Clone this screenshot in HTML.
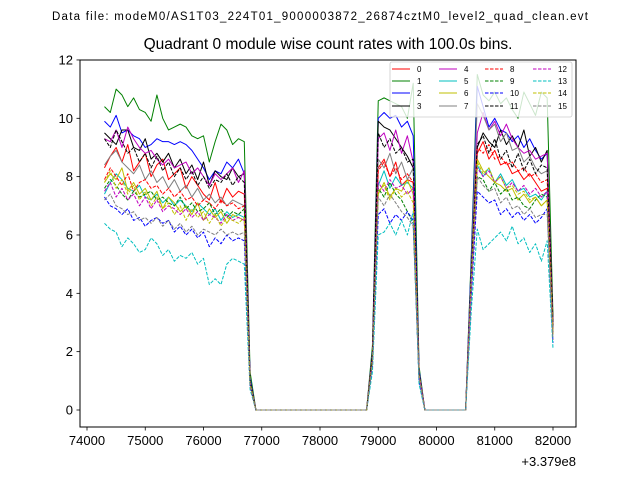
<!DOCTYPE html>
<html><head><meta charset="utf-8"><style>body{margin:0;background:#fff}svg{display:block;font-family:"Liberation Sans",sans-serif}</style></head>
<body>
<svg id="chart" width="640" height="480" xmlns="http://www.w3.org/2000/svg">
<rect width="640" height="480" fill="#fff"/>
<text x="320" y="20" font-size="11.5" text-anchor="middle" textLength="536">Data file: modeM0/AS1T03_224T01_9000003872_26874cztM0_level2_quad_clean.evt</text>
<text x="328" y="49" font-size="15.5" text-anchor="middle">Quadrant 0 module wise count rates with 100.0s bins.</text>
<g id="grid"></g>
<g id="lines"></g>
<rect x="80" y="60" width="496" height="367" fill="none" stroke="#000" stroke-width="1"/>
<g id="axes"></g>
<g id="legend"></g>
<text x="576" y="466" font-size="13" text-anchor="end">+3.379e8</text>
</svg>
<script>
const t0 = 74300, dt = 100;
const xTicks = [74000,75000,76000,77000,78000,79000,80000,81000,82000];
const yTicks = [0,2,4,6,8,10,12];
const names = ["0","1","2","3","4","5","6","7","8","9","10","11","12","13","14","15"];
const s0=[8.3,8.7,9.0,8.5,9.1,8.2,8.5,8.8,8.0,8.4,8.6,7.9,8.1,8.3,7.6,8.0,7.7,7.4,7.2,7.8,7.1,7.6,7.3,7.5,7.4,1.0,0,0,0,0,0,0,0,0,0,0,0,0,0,0,0,0,0,0,0,0,1.9,8.3,8.6,8.0,8.5,7.7,7.9,7.8,1.3,0,0,0,0,0,0,0,0,4.5,8.8,9.2,8.6,8.9,8.4,8.5,8.1,8.2,7.9,8.1,7.8,7.5,7.6,3.0];
const s1=[10.4,10.2,11.0,10.8,10.4,10.7,10.3,10.2,9.9,10.8,10.0,9.6,9.7,9.8,9.7,9.4,9.3,9.4,8.5,9.2,9.8,9.6,9.1,9.3,9.2,1.3,0,0,0,0,0,0,0,0,0,0,0,0,0,0,0,0,0,0,0,0,2.2,10.6,10.7,10.6,10.5,10.4,10.0,11.2,1.5,0,0,0,0,0,0,0,0,5.5,11.5,10.8,10.6,10.9,10.5,10.7,10.3,10.0,10.9,10.5,10.1,10.9,10.7,3.2];
const s2=[9.9,9.7,10.1,9.5,9.6,9.4,9.3,9.0,9.1,9.3,9.2,9.2,9.1,9.2,9.1,8.9,8.6,8.3,7.9,8.2,8.1,8.5,8.3,8.6,8.1,1.1,0,0,0,0,0,0,0,0,0,0,0,0,0,0,0,0,0,0,0,0,2.0,10.0,10.2,10.0,10.1,9.7,9.9,9.4,1.4,0,0,0,0,0,0,0,0,5.3,11.1,10.4,9.7,10.0,9.6,9.5,9.2,9.4,9.0,9.3,8.9,8.6,8.8,2.8];
const s3=[9.5,9.3,9.1,9.6,9.6,9.0,8.9,9.3,8.6,8.8,8.5,8.8,8.3,8.6,8.1,8.4,7.9,8.5,7.7,8.2,8.0,7.9,8.3,8.0,8.1,1.0,0,0,0,0,0,0,0,0,0,0,0,0,0,0,0,0,0,0,0,0,1.9,9.9,9.7,9.6,9.3,9.0,8.7,8.3,1.3,0,0,0,0,0,0,0,0,4.7,9.0,9.5,9.2,9.0,9.6,9.1,9.4,9.0,9.6,8.7,9.0,8.5,8.9,3.0];
const s4=[9.3,9.2,9.6,9.0,9.7,9.3,9.0,8.8,8.9,8.6,8.4,8.6,8.3,8.4,8.5,8.1,8.3,8.0,7.7,8.1,7.9,8.1,8.3,7.8,8.2,1.0,0,0,0,0,0,0,0,0,0,0,0,0,0,0,0,0,0,0,0,0,1.9,9.3,9.5,8.9,9.6,8.8,9.4,8.5,1.3,0,0,0,0,0,0,0,0,4.8,9.5,10.2,9.6,9.9,9.4,9.8,9.3,9.0,8.8,8.9,8.6,8.7,8.8,2.9];
const s5=[7.4,7.8,8.1,7.9,7.6,7.5,7.7,7.3,7.2,7.4,7.1,7.3,7.0,7.2,7.0,6.8,7.1,6.9,6.7,6.9,6.5,6.8,6.6,6.7,6.6,0.9,0,0,0,0,0,0,0,0,0,0,0,0,0,0,0,0,0,0,0,0,1.7,7.7,8.2,7.6,8.0,7.7,7.8,7.6,1.2,0,0,0,0,0,0,0,0,4.2,8.4,8.0,8.3,7.8,8.1,7.7,7.9,7.5,7.6,7.3,7.4,7.2,7.5,2.6];
const s6=[7.8,8.1,7.9,8.3,7.5,7.8,7.4,7.6,7.2,7.5,6.9,7.3,7.1,6.8,7.0,6.7,7.1,6.5,6.9,6.6,6.8,6.4,6.7,6.6,6.5,0.9,0,0,0,0,0,0,0,0,0,0,0,0,0,0,0,0,0,0,0,0,1.7,7.4,7.8,7.3,7.6,7.5,7.9,7.4,1.2,0,0,0,0,0,0,0,0,4.4,8.6,8.2,8.0,7.8,7.7,7.5,7.6,7.2,7.4,7.1,7.3,7.0,7.2,2.6];
const s7=[8.4,8.7,8.9,8.5,8.3,8.1,8.4,7.9,8.2,7.8,8.0,7.6,7.9,7.5,7.7,7.3,7.6,7.2,7.4,7.1,7.3,7.0,7.2,7.1,7.0,1.0,0,0,0,0,0,0,0,0,0,0,0,0,0,0,0,0,0,0,0,0,1.9,8.6,8.3,8.8,8.1,8.5,7.9,8.3,1.3,0,0,0,0,0,0,0,0,5.0,10.5,10.1,9.6,9.8,9.2,9.5,8.9,9.0,8.5,8.7,8.3,8.1,8.2,2.9];
const s8=[7.9,8.3,8.0,7.7,8.1,7.5,7.8,7.9,7.6,7.7,7.4,7.6,7.3,7.5,7.2,7.3,7.0,7.2,7.1,6.9,7.2,7.0,7.1,6.9,7.0,0.9,0,0,0,0,0,0,0,0,0,0,0,0,0,0,0,0,0,0,0,0,1.8,8.2,8.5,8.0,8.3,7.9,8.1,7.8,1.2,0,0,0,0,0,0,0,0,4.6,9.0,8.8,9.1,8.6,8.7,8.4,8.5,8.2,8.3,8.0,8.1,7.8,7.9,2.8];
const s9=[7.6,7.9,7.7,7.4,7.2,7.5,7.3,7.4,7.5,7.2,7.3,7.1,7.0,7.3,6.9,7.1,6.8,6.9,7.1,6.7,6.9,6.6,6.8,6.7,6.9,0.9,0,0,0,0,0,0,0,0,0,0,0,0,0,0,0,0,0,0,0,0,1.7,7.6,7.3,7.8,7.4,7.2,6.8,6.4,1.1,0,0,0,0,0,0,0,0,4.3,8.0,7.9,7.5,7.8,7.4,7.6,7.2,7.3,7.0,6.9,7.2,7.4,7.3,2.6];
const s10=[7.3,7.0,6.9,6.7,6.9,6.5,6.6,6.3,6.5,6.6,6.4,6.5,6.1,6.3,6.0,6.2,5.9,6.1,5.6,5.9,5.7,6.0,5.8,5.9,5.8,0.8,0,0,0,0,0,0,0,0,0,0,0,0,0,0,0,0,0,0,0,0,1.5,6.7,6.9,6.4,6.7,6.5,6.8,6.5,1.0,0,0,0,0,0,0,0,0,4.0,7.5,7.3,7.1,7.2,6.7,6.9,6.6,6.8,6.5,6.7,6.4,6.6,6.9,2.3];
const s11=[9.3,9.0,9.6,9.2,8.8,9.0,8.5,8.8,8.3,8.7,8.2,8.5,8.0,8.3,7.9,8.2,7.7,8.0,7.6,7.9,7.8,8.1,7.7,8.0,7.8,1.0,0,0,0,0,0,0,0,0,0,0,0,0,0,0,0,0,0,0,0,0,1.9,9.5,9.0,9.3,8.8,9.0,8.5,8.6,1.3,0,0,0,0,0,0,0,0,4.8,9.1,9.4,8.8,9.3,8.6,8.9,8.3,8.8,8.2,8.6,8.1,8.4,8.3,2.9];
const s12=[7.5,7.8,7.3,7.6,7.2,7.4,7.0,7.3,6.9,7.2,6.8,7.0,6.9,6.7,6.9,6.6,6.8,6.5,6.7,6.6,6.4,6.7,6.5,6.6,6.5,0.9,0,0,0,0,0,0,0,0,0,0,0,0,0,0,0,0,0,0,0,0,1.7,7.8,7.5,7.9,7.6,7.7,7.4,7.6,1.2,0,0,0,0,0,0,0,0,4.4,8.3,8.0,8.2,7.8,8.0,7.6,7.8,7.5,7.7,7.4,7.6,7.3,7.5,2.6];
const s13=[6.4,6.2,6.1,5.6,5.9,5.7,5.4,5.5,5.9,5.7,5.3,5.5,5.1,5.3,5.2,5.4,5.0,5.2,4.3,4.5,4.3,5.0,5.2,5.1,5.0,0.7,0,0,0,0,0,0,0,0,0,0,0,0,0,0,0,0,0,0,0,0,1.3,6.0,6.1,6.4,6.0,6.5,6.0,6.8,0.9,0,0,0,0,0,0,0,0,3.5,6.2,5.5,5.7,5.9,6.1,5.8,6.3,5.7,5.9,5.4,5.7,5.1,5.8,2.1];
const s14=[7.8,8.2,7.6,7.9,7.4,7.7,7.2,7.5,7.0,7.3,6.9,7.1,6.7,7.0,6.5,6.9,6.6,6.8,6.4,6.7,6.3,6.6,6.5,6.4,6.6,0.9,0,0,0,0,0,0,0,0,0,0,0,0,0,0,0,0,0,0,0,0,1.7,7.5,7.7,7.2,7.6,7.3,7.5,7.1,1.2,0,0,0,0,0,0,0,0,4.5,8.5,8.1,8.3,7.8,8.0,7.6,7.7,7.4,7.5,7.2,7.3,7.0,7.2,2.6];
const s15=[7.2,7.4,7.0,6.9,6.7,6.8,6.5,6.6,6.4,6.6,6.3,6.5,6.2,6.4,6.1,6.3,6.0,6.2,6.1,6.0,6.2,6.0,6.1,6.0,6.1,0.8,0,0,0,0,0,0,0,0,0,0,0,0,0,0,0,0,0,0,0,0,1.6,7.3,7.0,7.4,7.1,6.8,6.6,6.3,1.1,0,0,0,0,0,0,0,0,4.2,8.0,7.7,7.5,7.6,7.1,7.3,6.9,7.0,6.7,6.9,6.6,6.7,6.7,2.4];
const series=[s0,s1,s2,s3,s4,s5,s6,s7,s8,s9,s10,s11,s12,s13,s14,s15];
const colors=["#ff0000","#008000","#0000ff","#000000","#bf00bf","#00bfbf","#bfbf00","#808080"];
const NS="http://www.w3.org/2000/svg";
function xS(t){return 87+(t-74000)*0.05825;}
function yS(v){return 410-v*29.17;}
function mk(tag,attrs,parent){const e=document.createElementNS(NS,tag);for(const k in attrs)e.setAttribute(k,attrs[k]);parent.appendChild(e);return e;}
const axes=document.getElementById('axes');
xTicks.forEach(t=>{
  const l=mk('line',{x1:xS(t),x2:xS(t),y1:427,y2:430.5,stroke:'#000','stroke-width':0.8},axes);
  
  
  const tx=mk('text',{x:xS(t),y:445,'font-size':13,'text-anchor':'middle'},axes);
  tx.textContent=t;
  
  
});
yTicks.forEach(v=>{
  const l=mk('line',{x1:76.5,x2:80,y1:yS(v),y2:yS(v),stroke:'#000','stroke-width':0.8},axes);
  
  
  const tx=mk('text',{x:73,y:yS(v)+4.5,'font-size':13,'text-anchor':'end'},axes);
  tx.textContent=v;
  
  
});
const lines=document.getElementById('lines');
series.forEach((s,k)=>{
  const pts=s.map((v,i)=>xS(t0+i*dt).toFixed(2)+','+yS(v).toFixed(2)).join(' ');
  const a={points:pts,fill:'none',stroke:colors[k%8],'stroke-width':1,'stroke-linejoin':'round'};
  if(k>=8)a['stroke-dasharray']='3.5,1.5';
  const p=mk('polyline',a,lines);
  
  
});
const lg=document.getElementById('legend');
const box=mk('rect',{x:390,y:62,width:182,height:55,rx:2,fill:'#fff','fill-opacity':0.8,stroke:'#ccc','stroke-width':0.8},lg);


const colX=[392,439,485,533], rowY=[69,81,93,106];
names.forEach((n,k)=>{
  const c=Math.floor(k/4), r=k%4;
  const a={x1:colX[c],x2:colX[c]+18,y1:rowY[r],y2:rowY[r],stroke:colors[k%8],'stroke-width':1};
  if(k>=8)a['stroke-dasharray']='3.5,1.5';
  const l=mk('line',a,lg);
  
  
  const tx=mk('text',{x:colX[c]+25,y:rowY[r]+3,'font-size':8},lg);
  tx.textContent=n;
  
  
});
</script>
</body></html>
